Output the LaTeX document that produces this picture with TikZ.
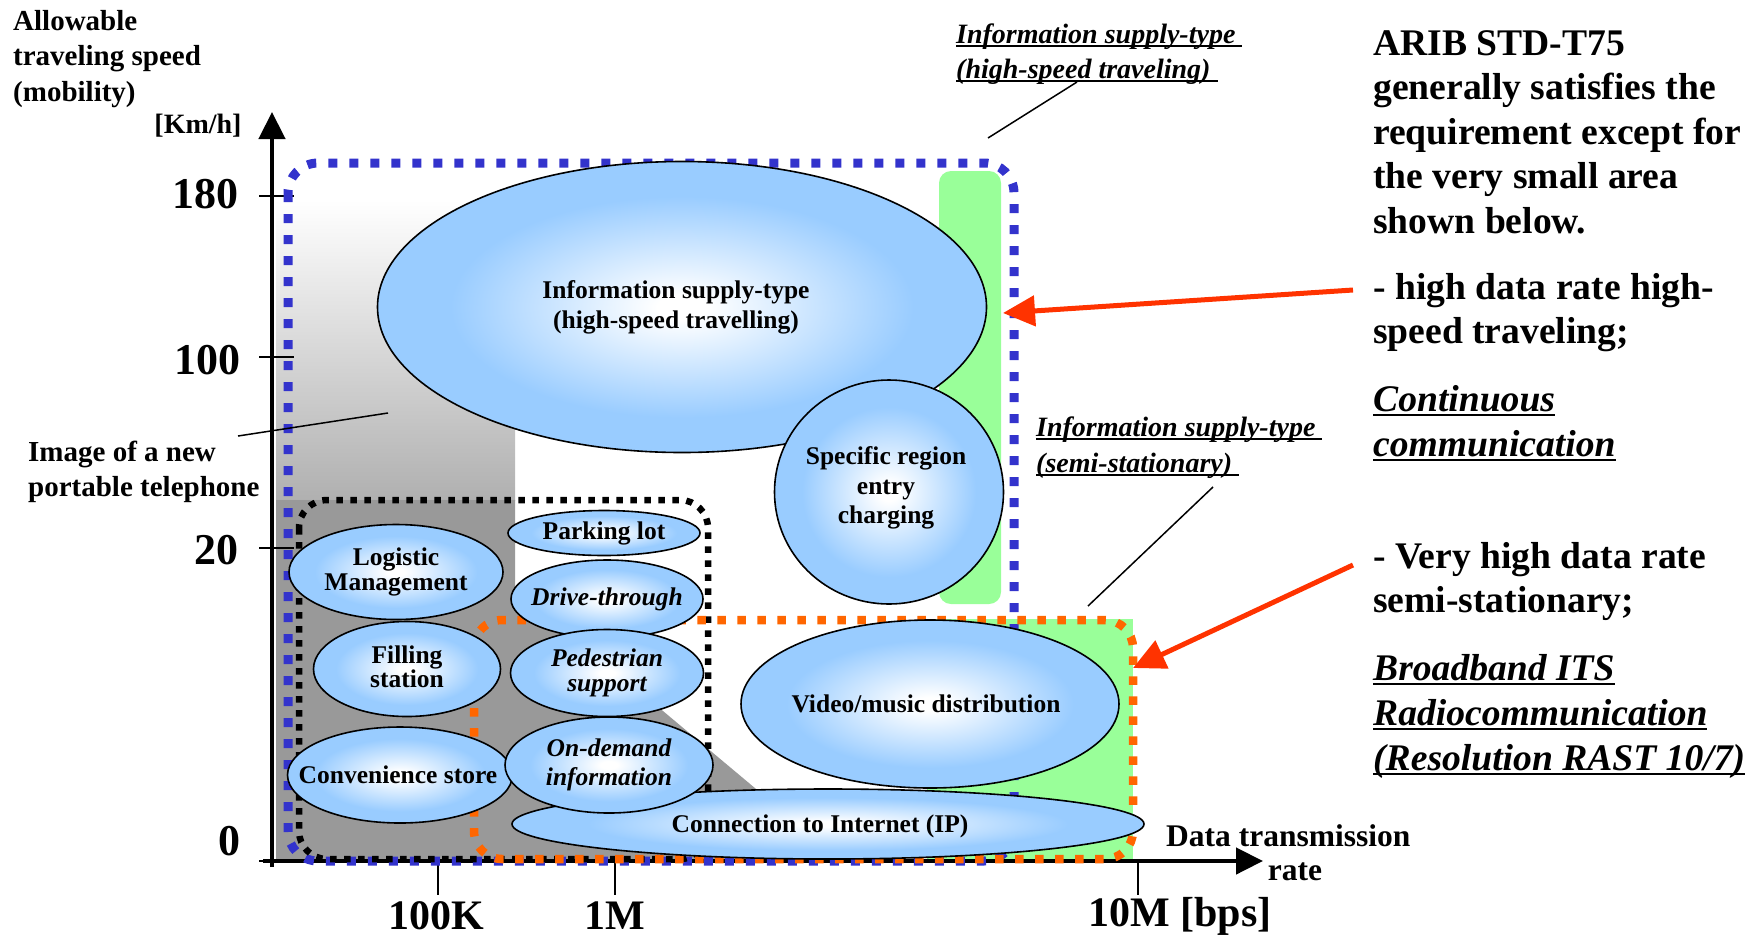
\documentclass[tikz,border=0pt]{standalone}
\usepackage{fontspec}
\setmainfont{Liberation Serif}
\usetikzlibrary{arrows.meta,shapes.geometric}
\definecolor{lblue}{RGB}{153,204,255}
\definecolor{dblue}{RGB}{51,51,204}
\definecolor{dorange}{RGB}{255,102,0}
\definecolor{lgreen}{RGB}{153,255,153}
\definecolor{redar}{RGB}{255,51,0}
\definecolor{gmid}{RGB}{153,153,153}
\definecolor{gtop}{RGB}{176,176,176}
\pgfdeclareradialshading{ballshade}{\pgfpoint{0bp}{0bp}}{color(0bp)=(white); color(2bp)=(white); color(19bp)=(lblue); color(50bp)=(lblue)}
\newcommand{\ulbig}[1]{\setbox0=\hbox{#1}\rlap{\rule[-5pt]{\wd0}{2.5pt}}\box0}
\newcommand{\ulsmall}[1]{\setbox0=\hbox{#1}\rlap{\rule[-4pt]{\wd0}{1.8pt}}\box0}
\tikzset{
  bub/.style={ellipse, draw=black, line width=1.6pt, shading=ballshade, inner sep=0pt},
  lab/.style={inner sep=0pt, align=center, font=\fontsize{25.5}{27}\selectfont\bfseries},
  labi/.style={lab, font=\fontsize{25.5}{27}\selectfont\bfseries\itshape},
  bluedot/.style={draw=dblue, line width=9pt, dash pattern=on 9pt off 12pt, rounded corners=30pt},
  orangedot/.style={draw=dorange, line width=8.5pt, dash pattern=on 8.5pt off 11.5pt, rounded corners=28pt},
  blackdot/.style={draw=black, line width=6.5pt, dash pattern=on 6.5pt off 7.5pt, rounded corners=28pt},
  axis/.style={line width=4.5pt, -{Triangle[length=27pt,width=26pt]}},
  tickln/.style={line width=1.8pt},
  ticklab/.style={inner sep=0pt, font=\fontsize{44}{48}\selectfont\bfseries},
  xlab/.style={inner sep=0pt, font=\fontsize{42}{46}\selectfont\bfseries},
  midtxt/.style={inner sep=0pt, font=\fontsize{29}{36}\selectfont\bfseries},
  bigtxt/.style={inner sep=0pt, anchor=base west, font=\fontsize{37.6}{44}\selectfont\bfseries},
  bigit/.style={bigtxt, font=\fontsize{37.6}{44}\selectfont\bfseries\itshape},
  smit/.style={inner sep=0pt, anchor=base west, font=\fontsize{28}{34}\selectfont\bfseries\itshape},
  leader/.style={line width=1.5pt},
  redarrow/.style={draw=redar, line width=5pt, -{Triangle[length=32pt,width=30pt]}},
}
\begin{document}
\begin{tikzpicture}[x=1pt,y=-1pt]
\useasboundingbox (0,0) rectangle (1753,938);
% gray region
\shade[top color=white, bottom color=gtop] (276,200) rectangle (515,500);
\fill[gmid] (276,500) -- (515,500) -- (515,587) -- (842,861) -- (276,861) -- cycle;
% green regions
\fill[lgreen, rounded corners=12pt] (939,171) rectangle (1001,604);
\fill[lgreen] (927,619) rectangle (1133,861);
% axes
\coordinate (org) at (272,861);
\coordinate (ytop) at (272,112);
\coordinate (ybot) at (272,867);
\coordinate (xleft) at (263,861);
\coordinate (xtip) at (1263,861);
\draw[axis] (ybot) -- (ytop);
\draw[axis] (xleft) -- (xtip);
\draw[tickln] (259,196) -- (294,196);
\draw[tickln] (259,357) -- (294,357);
\draw[tickln] (259,548) -- (294,548);
\draw[tickln] (259,861) -- (272,861);
\draw[tickln] (438,861) -- (438,895);
\draw[tickln] (615,861) -- (615,895);
\draw[tickln] (1138,861) -- (1138,895);
% dotted boxes
\draw[bluedot] (288,163) rectangle (1014,861);
\draw[blackdot] (299,500) rectangle (708,859);
\draw[orangedot] (474,620) rectangle (1133,859);
% ellipses
\node[bub, minimum width=609pt, minimum height=291pt] (info) at (682,307) {};
\node[bub, minimum width=229pt, minimum height=224pt] (spec) at (889,492) {};
\node[bub, minimum width=214pt, minimum height=95pt] (logi) at (396,572) {};
\node[bub, minimum width=192pt, minimum height=45pt] (park) at (604,533) {};
\node[bub, minimum width=192pt, minimum height=78pt] (drive) at (607,599) {};
\node[bub, minimum width=193pt, minimum height=87pt] (ped) at (607,673) {};
\node[bub, minimum width=187pt, minimum height=95pt] (fill) at (407,669) {};
\node[bub, minimum width=225pt, minimum height=96pt] (conv) at (400,775) {};
\node[bub, minimum width=378pt, minimum height=168pt] (video) at (930,704) {};
\node[bub, minimum width=632pt, minimum height=70pt] (conn) at (828,824) {};
\node[bub, minimum width=208pt, minimum height=96pt] (ondem) at (609,765) {};
% ellipse labels
\node[lab, font=\fontsize{25.5}{30}\selectfont\bfseries] (infot) at ([xshift=-6pt]info.center) {Information supply-type\\(high-speed travelling)};
\node[lab, font=\fontsize{25.5}{29.5}\selectfont\bfseries] (spect) at ([xshift=-3pt,yshift=4pt]spec.center) {Specific region\\entry\\charging};
\node[lab, font=\fontsize{25.5}{24.5}\selectfont\bfseries] (logit) at (logi.center) {Logistic\\Management};
\node[lab] (parkt) at (park.center) {Parking lot};
\node[labi] (drivet) at (drive.center) {Drive-through};
\node[labi, font=\fontsize{25.5}{25}\selectfont\bfseries\itshape] (pedt) at (ped.center) {Pedestrian\\support};
\node[lab, font=\fontsize{25.5}{24.5}\selectfont\bfseries] (fillt) at ([yshift=2pt]fill.center) {Filling\\station};
\node[lab] (convt) at ([xshift=-2pt]conv.center) {Convenience store};
\node[lab] (videot) at ([xshift=-4pt]video.center) {Video/music distribution};
\node[lab] (connt) at ([xshift=-8pt,yshift=-2pt]conn.center) {Connection to Internet (IP)};
\node[labi, font=\fontsize{25.5}{29}\selectfont\bfseries\itshape] (ondemt) at (ondem.center) {On-demand\\information};
% axis labels
\node[midtxt, anchor=base west] (al1) at (13,30) {Allowable};
\node[midtxt, anchor=base west] (al2) at (13,65) {traveling speed};
\node[midtxt, anchor=base west] (al3) at (13,101) {(mobility)};
\node[inner sep=0pt, font=\fontsize{28}{32}\selectfont\bfseries] (kmh) at (198,126) {[Km/h]};
\node[ticklab, anchor=east] (l180) at (239,194) {180};
\node[ticklab, anchor=east] (l100) at (241,360) {100};
\node[ticklab, anchor=east] (l20) at (239,550) {20};
\node[ticklab, anchor=east] (l0) at (241,841) {0};
\node[xlab] (l100k) at (436,916) {100K};
\node[xlab] (l1m) at (615,916) {1M};
\node[xlab] (l10m) at (1180,916) {10M [bps]};
\node[midtxt, font=\fontsize{31.5}{36}\selectfont\bfseries, anchor=base west] (dtr) at (1166,846) {Data transmission};
\node[midtxt, font=\fontsize{31.5}{36}\selectfont\bfseries] (rate) at (1295,872) {rate};
% image label
\node[midtxt, anchor=base west] (img1) at (28,461) {Image of a new};
\node[midtxt, anchor=base west] (img2) at (28,496) {portable telephone};
\coordinate (imgA) at (238,436);
\coordinate (imgB) at (388,413);
\draw[leader] (imgA) -- (imgB);
% top label
\node[smit] (top1) at (956,43) {\ulsmall{Information supply-type\ }};
\node[smit] (top2) at (956,78) {\ulsmall{(high-speed traveling)\ }};
\coordinate (topA) at (1077,82);
\coordinate (topB) at (988,138);
\draw[leader] (topA) -- (topB);
% semi label
\node[smit] (semi1) at (1036,436) {\ulsmall{Information supply-type\ }};
\node[smit] (semi2) at (1036,472) {\ulsmall{(semi-stationary)\ }};
\coordinate (semiA) at (1213,487);
\coordinate (semiB) at (1088,606);
\draw[leader] (semiA) -- (semiB);
% right text
\node[bigtxt] (r1) at (1373,55) {ARIB STD-T75};
\node[bigtxt] (r2) at (1373,99) {generally satisfies the};
\node[bigtxt] (r3) at (1373,144) {requirement except for};
\node[bigtxt] (r4) at (1373,188) {the very small area};
\node[bigtxt] (r5) at (1373,233) {shown below.};
\node[bigtxt] (r6) at (1373,299) {- high data rate high-};
\node[bigtxt] (r7) at (1373,343) {speed traveling;};
\node[bigit] (r8) at (1373,411) {\ulbig{Continuous}};
\node[bigit] (r9) at (1373,456) {\ulbig{communication}};
\node[bigtxt] (r10) at (1373,568) {- Very high data rate};
\node[bigtxt] (r11) at (1373,612) {semi-stationary;};
\node[bigit] (r12) at (1373,680) {\ulbig{Broadband ITS}};
\node[bigit] (r13) at (1373,725) {\ulbig{Radiocommunication}};
\node[bigit] (r14) at (1373,770) {\ulbig{(Resolution RAST 10/7)}};
% red arrows
\coordinate (ra1s) at (1353,290);
\coordinate (ra1t) at (1003,313);
\coordinate (ra2s) at (1353,565);
\coordinate (ra2t) at (1133,668);
\draw[redarrow] (ra1s) -- (ra1t);
\draw[redarrow] (ra2s) -- (ra2t);
\end{tikzpicture}
\end{document}
